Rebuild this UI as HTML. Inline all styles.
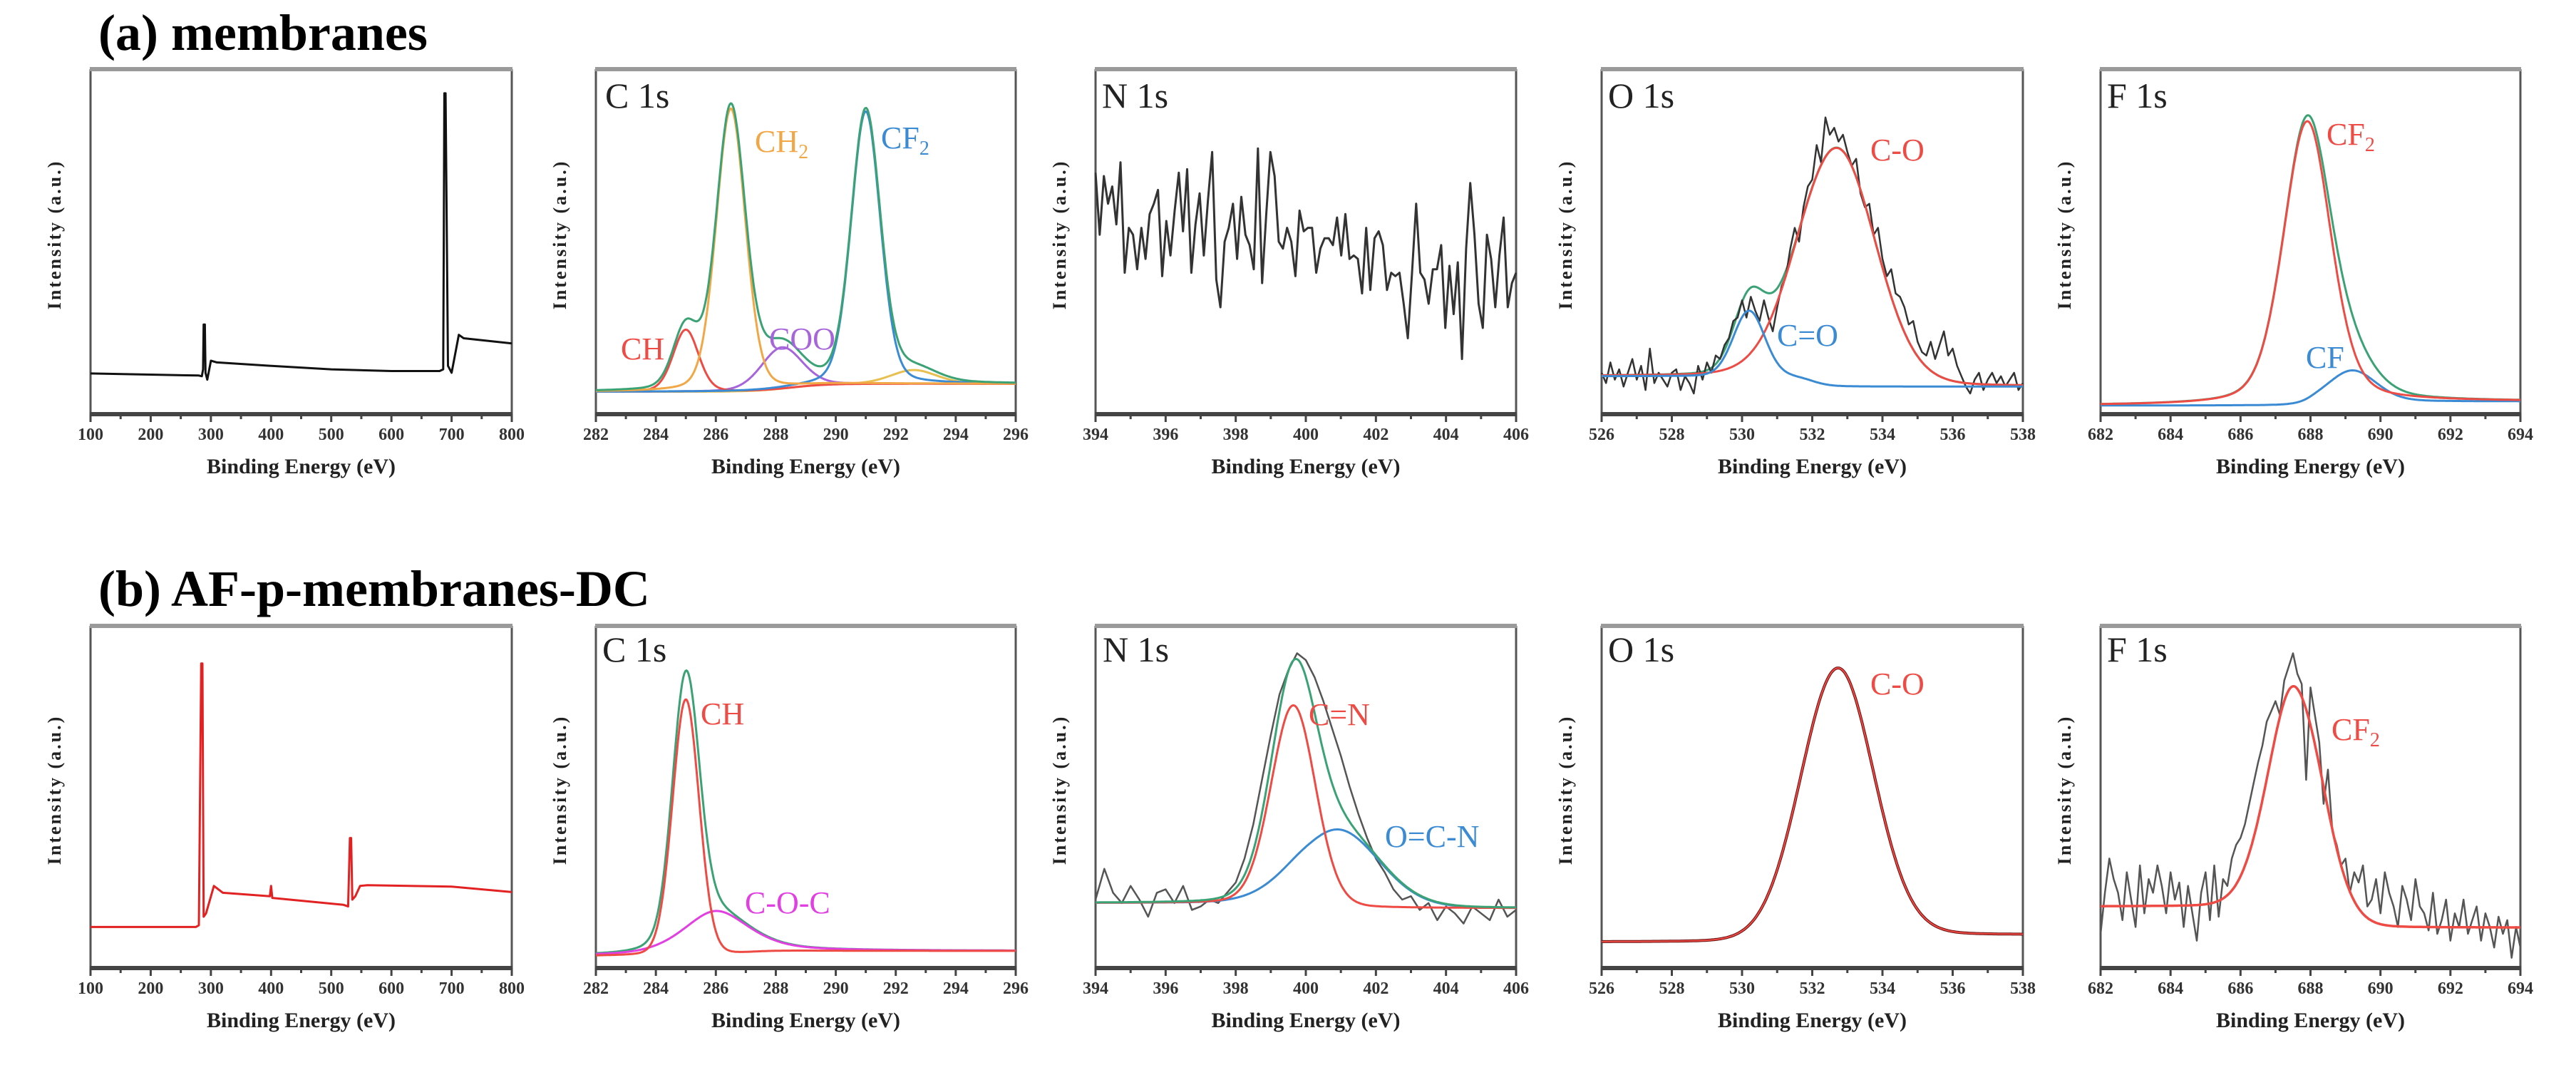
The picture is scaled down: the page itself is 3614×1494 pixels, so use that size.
<!DOCTYPE html>
<html><head><meta charset="utf-8"><style>
html,body{margin:0;padding:0;background:#fff;}
svg{display:block;}
text{font-family:"Liberation Serif",serif;}
</style></head><body>
<svg id="fig" xmlns="http://www.w3.org/2000/svg" width="3614" height="1494" viewBox="0 0 3614 1494">
<rect width="3614" height="1494" fill="#fff"/>
<text x="138" y="70" font-size="72" font-weight="bold">(a) membranes</text>
<text x="138" y="850" font-size="72" font-weight="bold">(b) AF-p-membranes-DC</text>
<g id="plots"></g>
</svg>
<script>
// ---------- data ----------
const surveyA_E = [100,280,285,287,288,290,291,294,300,310,400,500,600,680,686,687,688,690,694,700,712,720,800];
const surveyA_I = [.118,.112,.11,.13,.26,.26,.12,.10,.155,.15,.14,.13,.125,.125,.13,.5,.93,.93,.14,.12,.23,.22,.205];
const surveyB_E = [100,275,280,284,286,288,292,305,320,398,400,402,520,528,531,533,535,540,548,560,700,800];
const surveyB_I = [.12,.12,.125,.89,.89,.15,.16,.24,.22,.21,.24,.205,.185,.18,.38,.38,.2,.21,.24,.242,.238,.222];

const n1sA_I = [70,52,69,61,66,55,73,41,54,52,42,54,45,58,61,65,40,56,46,59,70,53,71,41,55,64,46,62,76,39,31,50,54,61,45,63,52,49,42,77,38,58,76,69,50,48,54,50,40,59,53,54,54,41,48,51,51,49,57,46,58,45,46,45,35,54,36,51,53,49,36,41,40,41,32,22,41,61,41,39,32,42,42,49,25,43,29,44,16,48,67,52,32,25,52,45,31,46,57,31,38,41];
const o1sA_raw = [.12,.09,.15,.10,.13,.08,.12,.16,.10,.14,.07,.19,.09,.12,.10,.08,.12,.13,.07,.11,.09,.06,.14,.10,.15,.12,.17,.16,.20,.22,.27,.28,.33,.28,.34,.30,.27,.33,.28,.24,.31,.37,.40,.48,.54,.50,.60,.66,.68,.78,.73,.86,.81,.83,.79,.81,.76,.72,.74,.64,.60,.61,.52,.54,.45,.40,.42,.35,.34,.31,.26,.27,.21,.18,.17,.21,.16,.20,.24,.17,.19,.14,.11,.08,.06,.10,.12,.07,.10,.12,.09,.11,.08,.10,.12,.07,.09];
const n1sB_raw = [.20,.29,.22,.19,.24,.20,.15,.22,.23,.19,.24,.17,.18,.20,.19,.22,.25,.32,.42,.55,.68,.80,.87,.92,.90,.85,.78,.70,.62,.53,.45,.38,.32,.28,.23,.20,.21,.17,.19,.14,.18,.16,.13,.18,.16,.14,.20,.15,.17];
const f1sB_raw = [.10,.22,.32,.26,.22,.14,.28,.20,.12,.30,.16,.26,.22,.30,.24,.16,.28,.20,.25,.12,.24,.16,.08,.22,.28,.14,.30,.15,.26,.24,.32,.36,.38,.42,.48,.54,.60,.65,.72,.75,.78,.74,.84,.88,.92,.86,.83,.55,.82,.74,.66,.48,.58,.40,.36,.30,.32,.22,.28,.25,.30,.18,.20,.26,.16,.28,.22,.18,.12,.24,.20,.14,.26,.18,.16,.11,.22,.10,.14,.20,.08,.16,.12,.20,.10,.14,.18,.08,.16,.12,.06,.15,.10,.14,.03,.12,.06];

// fitted components: [center, height, fwhm, eta]
const c1sA_peaks = {CH:[285.0,.18,1.0,.2], CH2:[286.5,.82,1.15,.2], COO:[288.2,.12,1.6,.2], CF2:[291.0,.79,1.15,.2], X:[292.6,.04,1.8,.2]};
const o1sA_peaks = {CdO:[530.2,.19,1.05,.1], CO:[532.7,.69,2.6,.1]};
const f1sA_peaks = {CF2:[687.9,.82,1.6,.3], CF:[689.2,.09,1.6,.2]};
const c1sB_peaks = {CH:[285.0,.75,1.05,.1], COC:[286.0,.13,2.6,.5]};
const n1sB_peaks = {CN:[399.65,.58,1.5,.1], OCN:[400.9,.23,2.8,.1]};
const o1sB_peaks = {CO:[532.7,.79,2.45,.05]};
const f1sB_peaks = {CF2:[687.6,.67,1.85,.05]};
// baselines [left, right, step-center, step-width]
const c1sA_base = [.065,.088,288.5,2.5];
const o1sA_base = [.11,.08,532.0,1.0];
const f1sA_base = [.025,.037,688.0,0.6];
const c1sB_base = [.035,.05,287.0,2.0];
const n1sB_base = [.19,.175,400.0,0.8];
const o1sB_base = [.076,.097,532.7,0.8];
const f1sB_base = [.18,.118,687.6,0.6];

// ---------- layout ----------
const NS = "http://www.w3.org/2000/svg";
const root = document.getElementById('plots');
const XS = [[127,718],[836,1425],[1537,2127],[2247,2838],[2947,3536]];
const YS = [[97,581],[878,1358]];

function mk(tag, attrs, parent){
  const e = document.createElementNS(NS, tag);
  for (const k in attrs) e.setAttribute(k, attrs[k]);
  (parent||root).appendChild(e);
  return e;
}
function pv(x,p){const d=(x-p[0])/p[2];return p[1]*((1-p[3])*Math.exp(-4*Math.LN2*d*d)+p[3]/(1+4*d*d));}
function base(x,b){return b[1]+(b[0]-b[1])/(1+Math.exp((x-b[2])/(b[3]/4)));}

function makePanel(col,row,xmin,xmax,step,minorStep,name){
  const [x0,x1]=XS[col],[y0,y1]=YS[row];
  const g = mk('g',{});
  
  
  const P = {g,x0,x1,y0,y1,xmin,xmax,
    sx:v=>x0+(v-xmin)/(xmax-xmin)*(x1-x0),
    sy:f=>y1-f*(y1-y0)};
  const fr = mk('g',{},g);
  
  
  mk('line',{x1:x0,y1:y0,x2:x0,y2:y1,stroke:'#555','stroke-width':3},fr);
  mk('line',{x1:x1,y1:y0,x2:x1,y2:y1,stroke:'#555','stroke-width':3},fr);
  mk('line',{x1:x0-1,y1:y0,x2:x1+1,y2:y0,stroke:'#9a9a9a','stroke-width':6},fr);
  mk('line',{x1:x0-1,y1:y1,x2:x1+1,y2:y1,stroke:'#444','stroke-width':6},fr);
  const ax = mk('g',{},g);
  
  
  for(let v=xmin; v<=xmax+1e-9; v+=minorStep){
    const major = Math.abs((v-xmin)/step-Math.round((v-xmin)/step))<1e-6;
    const X=P.sx(v);
    mk('line',{x1:X,y1:y1,x2:X,y2:y1+(major?11:7),stroke:'#444','stroke-width':3},ax);
    if(major){
      const t=mk('text',{x:X,y:y1+36,'text-anchor':'middle','font-size':24,'font-weight':'bold',fill:'#333'},ax);
      
      
      t.textContent=String(Math.round(v));
    }
  }
  const xt=mk('text',{x:(x0+x1)/2,y:y1+83,'text-anchor':'middle','font-size':30,'font-weight':'bold',fill:'#222'},g);
  
  
  xt.textContent='Binding Energy (eV)';
  const yc=(y0+y1)/2-10, yx=x0-42;
  const yt=mk('text',{x:yx,y:yc,'text-anchor':'middle','font-size':26,'font-weight':'bold','letter-spacing':3,fill:'#222',transform:`rotate(-90 ${yx} ${yc})`},g);
  
  
  yt.textContent='Intensity (a.u.)';
  return P;
}
function line(P,xs,ys,color,w,name){
  let d='';
  for(let i=0;i<xs.length;i++){d+=(i?'L':'M')+P.sx(xs[i]).toFixed(1)+','+P.sy(ys[i]).toFixed(1);}
  const p=mk('path',{d,fill:'none',stroke:color,'stroke-width':w,'stroke-linejoin':'round'},P.g);
  
  
  return p;
}
function grid(P,n){const a=[];for(let i=0;i<n;i++)a.push(P.xmin+(P.xmax-P.xmin)*i/(n-1));return a;}
function fitLine(P,peaks,keys,b,color,w,name){
  const xs=grid(P,400);
  const ys=xs.map(x=>base(x,b)+keys.reduce((s,k)=>s+pv(x,peaks[k]),0));
  return line(P,xs,ys,color,w,name);
}
function label(P,x,y,txt,sub,color,size,name){
  const t=mk('text',{x,y,'font-size':size||44,fill:color},P.g);
  
  
  t.appendChild(document.createTextNode(txt));
  if(sub){const s=mk('tspan',{'font-size':28,dy:9},t);s.textContent=sub;}
  return t;
}
function idxX(P,n){return grid(P,n);}

const GREEN='#3aa274', RED='#ee4b45', ORANGE='#f2a746', BLUE='#3b8bd4', PURPLE='#a765dc', MAG='#e23fe2', BLK='#333';

// ---------- row a ----------
let P=makePanel(0,0,100,800,100,50,'survey-panel-a');
line(P,surveyA_E,surveyA_I,'#111',3,'survey-spectrum-a');

P=makePanel(1,0,282,296,2,1,'c1s-panel-a');
label(P,849,151,'C 1s','', '#222',50,'panel-label');
fitLine(P,c1sA_peaks,['X'],c1sA_base,'#e8c050',3,'c1s-a-satellite');
fitLine(P,c1sA_peaks,['COO'],c1sA_base,PURPLE,3,'c1s-a-coo');
fitLine(P,c1sA_peaks,['CH'],c1sA_base,RED,3,'c1s-a-ch');
fitLine(P,c1sA_peaks,['CF2'],c1sA_base,BLUE,3,'c1s-a-cf2');
fitLine(P,c1sA_peaks,['CH2'],c1sA_base,ORANGE,3,'c1s-a-ch2');
fitLine(P,c1sA_peaks,['CH','CH2','COO','CF2','X'],c1sA_base,GREEN,3,'c1s-a-envelope');
label(P,1059,213,'CH','2',ORANGE,44,'label-ch2');
label(P,1236,208,'CF','2',BLUE,44,'label-cf2');
label(P,871,504,'CH','',RED,44,'label-ch');
label(P,1079,490,'COO','',PURPLE,44,'label-coo');

P=makePanel(2,0,394,406,2,1,'n1s-panel-a');
label(P,1546,151,'N 1s','','#222',50,'panel-label');
line(P,idxX(P,n1sA_I.length),n1sA_I.map(v=>v/100),BLK,3,'n1s-a-spectrum');

P=makePanel(3,0,526,538,2,1,'o1s-panel-a');
label(P,2256,151,'O 1s','','#222',50,'panel-label');
fitLine(P,o1sA_peaks,['CdO','CO'],o1sA_base,GREEN,3,'o1s-a-envelope');
line(P,idxX(P,o1sA_raw.length),o1sA_raw,BLK,2.5,'o1s-a-spectrum');
fitLine(P,o1sA_peaks,['CO'],o1sA_base,RED,3,'o1s-a-co');
fitLine(P,o1sA_peaks,['CdO'],o1sA_base,BLUE,3,'o1s-a-c=o');
label(P,2624,225,'C-O','',RED,44,'label-c-o');
label(P,2493,485,'C=O','',BLUE,44,'label-c=o');

P=makePanel(4,0,682,694,2,1,'f1s-panel-a');
label(P,2956,151,'F 1s','','#222',50,'panel-label');
fitLine(P,f1sA_peaks,['CF'],f1sA_base,BLUE,3,'f1s-a-cf');
fitLine(P,f1sA_peaks,['CF2','CF'],f1sA_base,GREEN,3,'f1s-a-envelope');
fitLine(P,f1sA_peaks,['CF2'],f1sA_base,RED,3,'f1s-a-cf2');
label(P,3264,203,'CF','2',RED,44,'label-cf2');
label(P,3235,516,'CF','',BLUE,44,'label-cf');

// ---------- row b ----------
P=makePanel(0,1,100,800,100,50,'survey-panel-b');
line(P,surveyB_E,surveyB_I,'#e22222',3,'survey-spectrum-b');

P=makePanel(1,1,282,296,2,1,'c1s-panel-b');
label(P,845,928,'C 1s','','#222',50,'panel-label');
fitLine(P,c1sB_peaks,['CH','COC'],c1sB_base,GREEN,3,'c1s-b-envelope');
fitLine(P,c1sB_peaks,['COC'],c1sB_base,MAG,3,'c1s-b-coc');
fitLine(P,c1sB_peaks,['CH'],c1sB_base,RED,3,'c1s-b-ch');
label(P,983,1016,'CH','',RED,44,'label-ch');
label(P,1045,1281,'C-O-C','',MAG,44,'label-c-o-c');

P=makePanel(2,1,394,406,2,1,'n1s-panel-b');
label(P,1547,928,'N 1s','','#222',50,'panel-label');
line(P,idxX(P,n1sB_raw.length),n1sB_raw,'#555',2.5,'n1s-b-spectrum');
fitLine(P,n1sB_peaks,['OCN'],n1sB_base,BLUE,3,'n1s-b-ocn');
fitLine(P,n1sB_peaks,['CN'],n1sB_base,RED,3,'n1s-b-cn');
fitLine(P,n1sB_peaks,['CN','OCN'],n1sB_base,GREEN,3,'n1s-b-envelope');
label(P,1836,1017,'C=N','',RED,44,'label-c=n');
label(P,1943,1188,'O=C-N','',BLUE,44,'label-o=c-n');

P=makePanel(3,1,526,538,2,1,'o1s-panel-b');
label(P,2256,928,'O 1s','','#222',50,'panel-label');
fitLine(P,o1sB_peaks,['CO'],o1sB_base,'#6a1010',4,'o1s-b-spectrum');
fitLine(P,o1sB_peaks,['CO'],o1sB_base,RED,2,'o1s-b-co');
label(P,2624,974,'C-O','',RED,44,'label-c-o');

P=makePanel(4,1,682,694,2,1,'f1s-panel-b');
label(P,2956,928,'F 1s','','#222',50,'panel-label');
line(P,idxX(P,f1sB_raw.length),f1sB_raw,'#555',2.5,'f1s-b-spectrum');
fitLine(P,f1sB_peaks,['CF2'],f1sB_base,RED,3.5,'f1s-b-cf2');
label(P,3271,1038,'CF','2',RED,44,'label-cf2');
</script>
</body></html>
